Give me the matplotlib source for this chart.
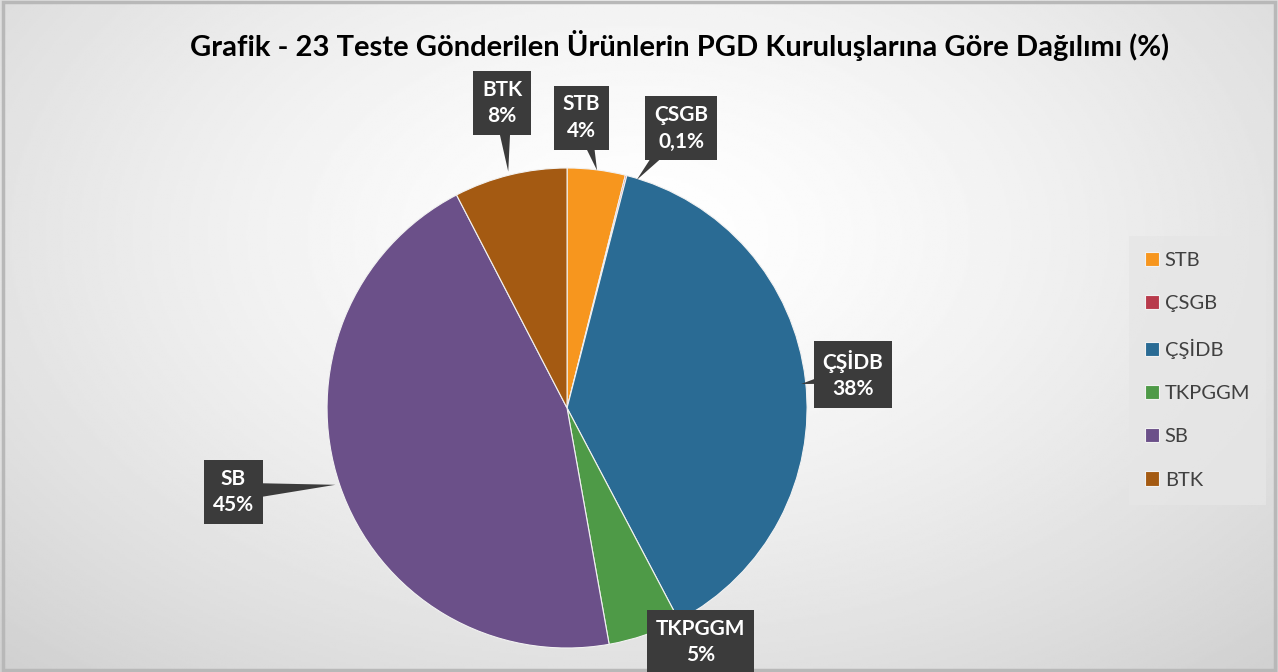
import numpy as np
import matplotlib.pyplot as plt
from matplotlib.patches import Rectangle

plt.rcParams['font.family'] = ['Lato', 'DejaVu Sans']

# veriler
kurulus = ["STB", "ÇSGB", "ÇŞİDB", "TKPGGM", "SB", "BTK"]
oran = [3.9, 0.1, 38.2, 4.9, 45.1, 7.6]
renkler = ["#F7961E", "#B83A4B", "#2A6B94", "#4E9A47", "#6B5089", "#A45A12"]

# etiket kutusu konumlari (veri koordinati) ve ok uclari
etiket_xy = [(0.06, 1.21), (0.475, 1.165), (1.19, 0.14), (0.555, -0.975), (-1.39, -0.35), (-0.27, 1.27)]
ok_ucu = [(0.125, 0.99), (0.29, 0.95), (0.975, 0.10), None, (-0.965, -0.32), (-0.245, 0.985)]

def yuzde(v):
    if v < 1:
        return ("%.1f%%" % v).replace(".", ",")
    return "%d%%" % round(v)

fig = plt.figure(figsize=(12.78, 6.72), dpi=100)

# arka plan gradyani
bg = fig.add_axes([0, 0, 1, 1])
yy, xx = np.mgrid[0:1:300j, 0:1:600j]
d = np.sqrt(((xx - 0.5) / 0.75) ** 2 + ((yy - 0.35) / 0.9) ** 2)
d = np.clip(d, 0, 1)
val = 1.0 - 0.19 * d ** 1.4
bg.imshow(val, cmap="gray", vmin=0, vmax=1, extent=[0, 1, 0, 1], aspect="auto", origin="upper")
bg.add_patch(Rectangle((0.002, 0.003), 0.996, 0.994, fill=False, ec="#b8b8b8", lw=2.5,
                       transform=bg.transAxes))
bg.axis("off")

ax = fig.add_axes([0.2559, 0.0357, 0.3756, 0.7143])
wedges, _ = ax.pie(oran, colors=renkler, startangle=90, counterclock=False, radius=1,
                   wedgeprops=dict(edgecolor="#f2f2f2", linewidth=0.8))
ax.set_xlim(-1, 1)
ax.set_ylim(-1, 1)
ax.set_aspect("equal")
ax.axis("off")

for i, ad in enumerate(kurulus):
    metin = ad + "\n" + yuzde(oran[i])
    kutu = dict(boxstyle="square,pad=0.42", fc="#3b3b3b", ec="none")
    if ok_ucu[i] is not None:
        ax.annotate(metin, xy=ok_ucu[i], xytext=etiket_xy[i], ha="center", va="center",
                    color="white", fontsize=15, fontweight="bold", linespacing=1.4,
                    bbox=kutu, annotation_clip=False,
                    arrowprops=dict(arrowstyle="wedge,tail_width=0.9,shrink_factor=0.5",
                                    fc="#3b3b3b", ec="none", shrinkA=0, shrinkB=0, patchA=None))
    else:
        ax.text(etiket_xy[i][0], etiket_xy[i][1], metin, ha="center", va="center",
                color="white", fontsize=15, fontweight="bold", linespacing=1.4,
                bbox=kutu, clip_on=False)

fig.text(0.532, 0.933, "Grafik - 23 Teste Gönderilen Ürünlerin PGD Kuruluşlarına Göre Dağılımı (%)",
         ha="center", va="center", fontsize=21, fontweight="bold", color="black")

leg = fig.legend(wedges, kurulus, loc="center", bbox_to_anchor=(0.937, 0.449), frameon=True,
                 fontsize=14.5, labelspacing=1.3, handlelength=0.7, handleheight=0.7,
                 handletextpad=0.3, borderpad=0.8, borderaxespad=0, fancybox=False)
leg.get_frame().set_facecolor("#e6e6e6")
leg.get_frame().set_edgecolor("none")
for t in leg.get_texts():
    t.set_color("#404040")

fig.savefig("out.png", dpi=100)
